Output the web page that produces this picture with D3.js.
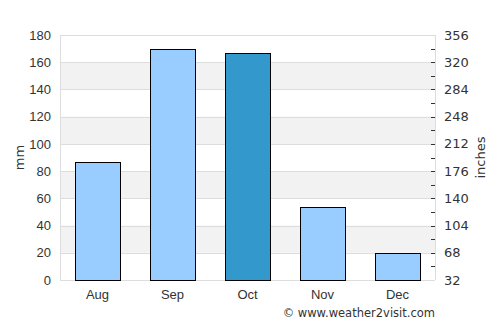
<!DOCTYPE html>
<html>
<head>
<meta charset="utf-8">
<script src="https://cdn.jsdelivr.net/npm/d3@7"></script>
<style>
    body { margin: 0; background: #fff; }
    svg { display: block; font-family: "DejaVu Sans", sans-serif; }
</style>
</head>
<body>
<svg id="svg"></svg>
<script>
// data
const months = ["Aug", "Sep", "Oct", "Nov", "Dec"];
const rainfall = [87, 169.5, 166.5, 54, 20];
const highlightMonth = "Oct";
const mmTicks = [0, 20, 40, 60, 80, 100, 120, 140, 160, 180];
const rightTicks = [32, 68, 104, 140, 176, 212, 248, 284, 320, 356];

const width = 500;
const height = 325;
const margin = { top: 35, right: 65, bottom: 45, left: 60 };
const chartWidth = width - margin.left - margin.right;
const chartHeight = height - margin.top - margin.bottom;

let svg = d3.select("#svg").attr("width", width).attr("height", height);
let chart = svg.append("g")
    .attr("transform", `translate(${margin.left},${margin.top})`);

let xScale = d3.scaleBand()
    .domain(months)
    .range([0, chartWidth])
    .paddingInner(0.4)
    .paddingOuter(0.2);

let yScale = d3.scaleLinear()
    .domain([0, 180])
    .range([chartHeight, 0]);

// right axis just maps the same range onto 32..356
let yRight = d3.scaleLinear()
    .domain([32, 356])
    .range([chartHeight, 0]);

// alternating shaded bands
for (let i = 1; i < mmTicks.length - 1; i += 2) {
    chart.append("rect")
        .attr("x", 0)
        .attr("width", chartWidth)
        .attr("y", yScale(mmTicks[i + 1]))
        .attr("height", yScale(mmTicks[i]) - yScale(mmTicks[i + 1]))
        .attr("fill", "#f2f2f2");
}

// grid lines
chart.selectAll(".grid")
    .data(mmTicks)
    .enter().append("line")
    .attr("class", "grid")
    .attr("x1", 0)
    .attr("x2", chartWidth)
    .attr("y1", d => Math.round(yScale(d)) + 0.5)
    .attr("y2", d => Math.round(yScale(d)) + 0.5)
    .attr("stroke", "#dddddd");

// frame sides
chart.append("line")
    .attr("x1", 0.5).attr("x2", 0.5)
    .attr("y1", 0).attr("y2", chartHeight)
    .attr("stroke", "#dddddd");
chart.append("line")
    .attr("x1", chartWidth + 0.5).attr("x2", chartWidth + 0.5)
    .attr("y1", 0).attr("y2", chartHeight)
    .attr("stroke", "#dddddd");

// bars
chart.selectAll(".bar")
    .data(months.map((m, i) => ({ month: m, value: rainfall[i] })))
    .enter().append("rect")
    .attr("class", "bar")
    .attr("x", d => Math.round(xScale(d.month)) + 0.5)
    .attr("y", d => Math.round(yScale(d.value)) + 0.5)
    .attr("width", xScale.bandwidth())
    .attr("height", d => chartHeight - Math.round(yScale(d.value)))
    .attr("fill", d => d.month == highlightMonth ? "#3399cc" : "#99ccff")
    .attr("stroke", "#000")
    .attr("stroke-width", 1);

// left axis
let leftAxis = chart.append("g")
    .call(d3.axisLeft(yScale).tickValues(mmTicks).tickSize(0).tickPadding(9));
leftAxis.select(".domain").remove();
leftAxis.selectAll("text")
    .style("font-size", "13px")
    .attr("fill", "#333");

// bottom axis
let bottomAxis = chart.append("g")
    .attr("transform", `translate(0,${chartHeight})`)
    .call(d3.axisBottom(xScale).tickSize(0).tickPadding(10));
bottomAxis.select(".domain").remove();
bottomAxis.selectAll("text")
    .style("font-size", "13px")
    .attr("fill", "#333");

// right axis, ticks on the inner side
let minorTicks = d3.range(50, 356, 36);
let rightAxis = chart.append("g")
    .attr("transform", `translate(${chartWidth},0)`);
rightAxis.selectAll(".rtick")
    .data(rightTicks.slice(1, -1).concat(minorTicks))
    .enter().append("line")
    .attr("class", "rtick")
    .attr("x1", -4)
    .attr("x2", 0)
    .attr("y1", d => Math.round(yRight(d)) + 0.5)
    .attr("y2", d => Math.round(yRight(d)) + 0.5)
    .attr("stroke", "#333");
rightAxis.selectAll(".rlabel")
    .data(rightTicks)
    .enter().append("text")
    .attr("class", "rlabel")
    .attr("x", 9)
    .attr("y", d => yRight(d))
    .attr("dy", "0.35em")
    .style("font-size", "13px")
    .attr("fill", "#333")
    .text(d => d);

// axis titles
svg.append("text")
    .attr("transform", `translate(24,${margin.top + chartHeight / 2}) rotate(-90)`)
    .attr("text-anchor", "middle")
    .style("font-size", "13px")
    .attr("fill", "#333")
    .text("mm");

svg.append("text")
    .attr("transform", `translate(485,${margin.top + chartHeight / 2}) rotate(-90)`)
    .attr("text-anchor", "middle")
    .style("font-size", "13px")
    .attr("fill", "#333")
    .text("inches");

// credit
svg.append("text")
    .attr("x", 435)
    .attr("y", 317)
    .attr("text-anchor", "end")
    .style("font-size", "11.5px")
    .attr("fill", "#333")
    .text("© www.weather2visit.com");
</script>
</body>
</html>
